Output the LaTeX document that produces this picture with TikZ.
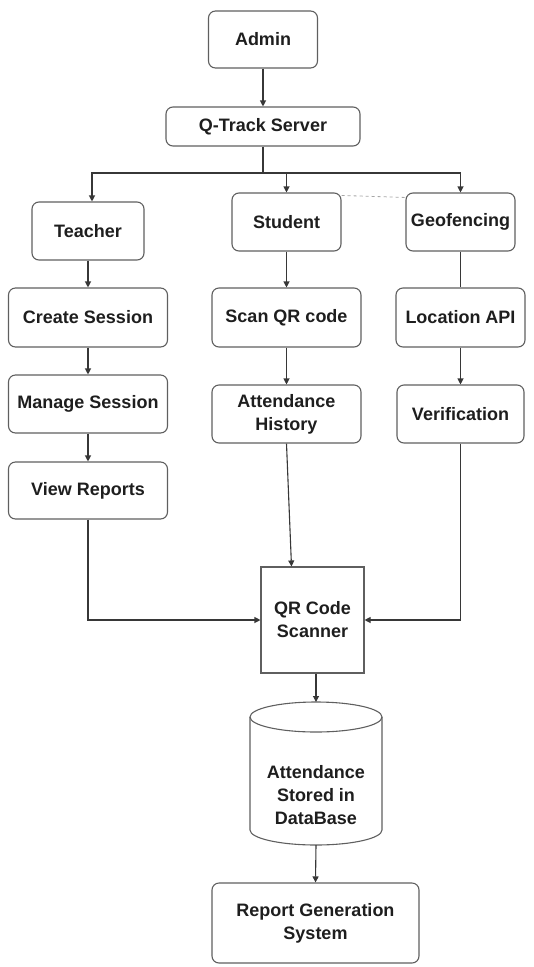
\documentclass[tikz,border=0pt]{standalone}
\usepackage{fontspec}
\setmainfont{Liberation Sans}
\usetikzlibrary{arrows.meta}
\definecolor{boxgray}{RGB}{95,95,95}
\definecolor{lin}{RGB}{55,55,55}
\definecolor{txt}{RGB}{30,30,30}
\begin{document}
\begin{tikzpicture}[x=1pt,y=-1pt,
  box/.style={draw=boxgray, line width=1.1pt, rounded corners=7pt, align=center,
    font=\bfseries\fontsize{18}{23}\selectfont, text=txt, inner sep=0pt},
  arr/.style={draw=lin, line width=1.1pt, -{Triangle[length=6pt,width=6pt]}},
  ln/.style={draw=lin, line width=1.1pt}]
\useasboundingbox (0,0) rectangle (534,967);

\node[box, minimum width=109pt, minimum height=57pt] (admin) at (263,39.5) {Admin};
\node[box, minimum width=194pt, minimum height=39pt] (qt) at (263,126.5) {Q-Track Server};
\node[box, minimum width=112pt, minimum height=58pt] (teacher) at (88,231) {Teacher};
\node[box, minimum width=109pt, minimum height=58pt] (student) at (286.5,222) {Student};
\node[box, minimum width=109pt, minimum height=58pt] (geo) at (460.5,222) {Geofencing};
\node[box, minimum width=159pt, minimum height=59pt] (create) at (88,317.5) {Create Session};
\node[box, minimum width=149pt, minimum height=59pt] (scan) at (286.5,317.5) {Scan QR code};
\node[box, minimum width=129pt, minimum height=59pt] (loc) at (460.5,317.5) {Location API};
\node[box, minimum width=159pt, minimum height=58pt] (manage) at (88,404) {Manage Session};
\node[box, minimum width=149pt, minimum height=58pt] (ah) at (286.5,414) {Attendance\\History};
\node[box, minimum width=127pt, minimum height=58pt] (ver) at (460.5,414) {Verification};
\node[box, minimum width=159pt, minimum height=57pt] (view) at (88,490.5) {View Reports};
\node[box, rounded corners=0pt, minimum width=103pt, minimum height=106pt] (qr) at (312.5,620) {QR Code\\Scanner};
\node[box, minimum width=207pt, minimum height=80pt] (report) at (315.5,923) {Report Generation\\System};

% database cylinder
\draw[draw=boxgray, line width=1.1pt] (316,717) ellipse [x radius=66pt, y radius=15pt];
\draw[draw=boxgray, line width=1.1pt] (250,717) -- (250,830)
  arc[start angle=180, end angle=360, x radius=66pt, y radius=15pt] -- (382,717);
\node[align=center, font=\bfseries\fontsize{18}{23}\selectfont, text=txt] (db) at (316,795)
  {Attendance\\Stored in\\DataBase};
\coordinate (dbtop) at (316,702);
\coordinate (dbbot) at (316,845);

% connectors
\coordinate (bus) at (263,173);
\draw[arr] (admin.south) -- (qt.north);
\draw[ln] (qt.south) -- (bus);
\draw[arr] (bus) -| ([xshift=4pt]teacher.north);
\draw[arr] (bus) -| (student.north);
\draw[arr] (bus) -| (geo.north);
\draw[dashed, draw=gray!70, line width=0.8pt] ([yshift=-3pt]student.north east) -- ([yshift=-5pt]geo.north west);

\draw[arr] (teacher.south) -- (create.north);
\draw[arr] (create.south) -- (manage.north);
\draw[arr] (manage.south) -- (view.north);
\draw[arr] (student.south) -- (scan.north);
\draw[arr] (scan.south) -- (ah.north);
\draw[ln] (geo.south) -- (loc.north);
\draw[arr] (loc.south) -- (ver.north);

\draw[arr] (ah.south) -- ([xshift=-21pt]qr.north);
\draw[arr] (view.south) |- (qr.west);
\draw[arr] (ver.south) |- (qr.east);
\draw[arr] (qr.south -| dbtop) -- (dbtop);
\draw[arr] (dbbot) -- (report.north);
\end{tikzpicture}
\end{document}
